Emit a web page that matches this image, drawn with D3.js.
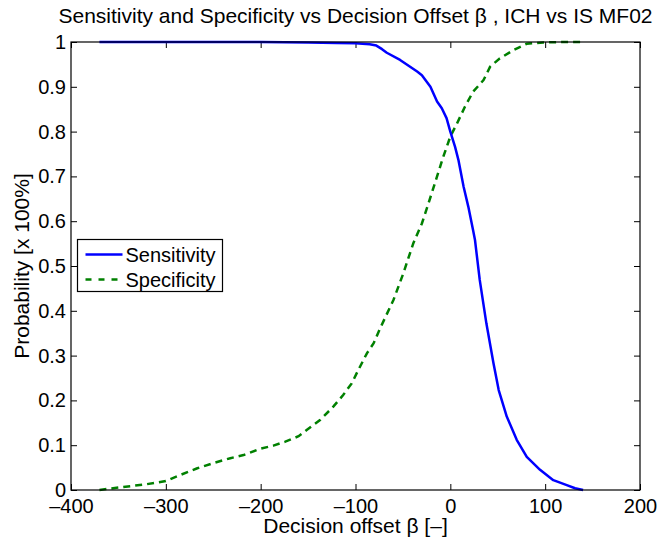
<!DOCTYPE html>
<html>
<head>
<meta charset="utf-8">
<script src="https://cdn.jsdelivr.net/npm/d3@7"></script>
<style>
  body { margin: 0; background: #fff; }
  text { font-family: "Liberation Sans", Helvetica, Arial, sans-serif; fill: #000; }
</style>
</head>
<body>
<script>
// values
var sensX = [-370, -300, -200, -150, -120, -100, -85, -78, -72, -67, -53, -35, -30, -21, -14, -9, -4, 0, 5, 8.5, 14, 19, 24, 26, 31, 38, 45.5, 51, 59.5, 70, 80.6, 94.6, 108.6, 122.8, 131.5, 140];
var sensY = [1, 1, 1, 0.999, 0.998, 0.997, 0.995, 0.992, 0.984, 0.976, 0.96, 0.934, 0.926, 0.9, 0.867, 0.852, 0.83, 0.8, 0.766, 0.737, 0.677, 0.632, 0.58, 0.558, 0.469, 0.372, 0.283, 0.223, 0.164, 0.112, 0.074, 0.045, 0.022, 0.011, 0.004, 0];
var specX = [-370, -348, -320, -300, -289, -267.5, -250, -232, -218, -200.7, -186.6, -174, -160, -151.5, -137.4, -123.4, -113, -104, -97, -88, -81, -74, -60, -49.5, -39, -30, -23, -14, -7.4, 0, 7, 15.5, 24, 35, 42, 52, 66.5, 80.6, 98, 123, 140];
var specY = [0, 0.006, 0.013, 0.02, 0.03, 0.048, 0.06, 0.071, 0.078, 0.092, 0.099, 0.108, 0.12, 0.134, 0.156, 0.186, 0.212, 0.238, 0.268, 0.305, 0.327, 0.361, 0.424, 0.484, 0.551, 0.595, 0.64, 0.7, 0.744, 0.789, 0.818, 0.856, 0.889, 0.915, 0.945, 0.963, 0.982, 0.996, 0.999, 1, 1];
var xTicks = [-400, -300, -200, -100, 0, 100, 200];
var yTicks = [0, 0.1, 0.2, 0.3, 0.4, 0.5, 0.6, 0.7, 0.8, 0.9, 1];
var seriesNames = ["Sensitivity", "Specificity"];

var width = 659, height = 542;
// plot box edges (names chosen so they don't clash with window.top etc.)
var boxL = 71, boxR = 640, boxT = 42, boxB = 490;
var tickLen = 6;
var fontSize = "20px";

var svg = d3.select("body").append("svg")
    .attr("width", width)
    .attr("height", height);

var x = d3.scaleLinear().domain([-400, 200]).range([boxL, boxR]);
var y = d3.scaleLinear().domain([0, 1]).range([boxB, boxT]);

// format like matlab: minus as en dash, no trailing zeros
var fmt = function (d) { return String(+d.toFixed(1)).replace("-", "\u2013"); };

// bottom axis with inward ticks, labels below
svg.append("g")
    .attr("transform", "translate(0," + boxB + ")")
    .call(d3.axisBottom(x).tickValues(xTicks).tickFormat(fmt).tickSizeInner(-tickLen).tickSizeOuter(0).tickPadding(9))
    .call(function (g) { g.select(".domain").remove(); })
    .selectAll("text").style("font-size", fontSize);

// top axis ticks only
svg.append("g")
    .attr("transform", "translate(0," + boxT + ")")
    .call(d3.axisTop(x).tickValues(xTicks).tickFormat("").tickSizeInner(-tickLen).tickSizeOuter(0))
    .call(function (g) { g.select(".domain").remove(); });

// left axis
svg.append("g")
    .attr("transform", "translate(" + boxL + ",0)")
    .call(d3.axisLeft(y).tickValues(yTicks).tickFormat(fmt).tickSizeInner(-tickLen).tickSizeOuter(0).tickPadding(5))
    .call(function (g) { g.select(".domain").remove(); })
    .selectAll("text").style("font-size", fontSize);

// right axis ticks only
svg.append("g")
    .attr("transform", "translate(" + boxR + ",0)")
    .call(d3.axisRight(y).tickValues(yTicks).tickFormat("").tickSizeInner(-tickLen).tickSizeOuter(0))
    .call(function (g) { g.select(".domain").remove(); });

svg.selectAll(".tick line").attr("stroke", "#000");

// the curves
var line = d3.line()
    .x(function (d) { return x(d[0]); })
    .y(function (d) { return y(d[1]); });

var sens = sensX.map(function (v, i) { return [v, sensY[i]]; });
var spec = specX.map(function (v, i) { return [v, specY[i]]; });

svg.append("path")
    .datum(spec)
    .attr("d", line)
    .attr("fill", "none")
    .attr("stroke", "#008000")
    .attr("stroke-width", 2.5)
    .attr("stroke-dasharray", "7,5");

svg.append("path")
    .datum(sens)
    .attr("d", line)
    .attr("fill", "none")
    .attr("stroke", "#0000ff")
    .attr("stroke-width", 2.5)
    .attr("stroke-linejoin", "round");

// box around the plot
svg.append("rect")
    .attr("x", boxL)
    .attr("y", boxT)
    .attr("width", boxR - boxL)
    .attr("height", boxB - boxT)
    .attr("fill", "none")
    .attr("stroke", "#000")
    .attr("stroke-width", 1.2);

// legend
var legend = svg.append("g").attr("transform", "translate(77.5,239.5)");
legend.append("rect")
    .attr("width", 145)
    .attr("height", 52)
    .attr("fill", "#fff")
    .attr("stroke", "#000")
    .attr("stroke-width", 1.2);
var styles = [{ c: "#0000ff", dash: null }, { c: "#008000", dash: "6,7" }];
seriesNames.forEach(function (name, i) {
    var yy = 15 + i * 25;
    legend.append("line")
        .attr("x1", 8).attr("x2", 45)
        .attr("y1", yy).attr("y2", yy)
        .attr("stroke", styles[i].c)
        .attr("stroke-width", 2.5)
        .attr("stroke-dasharray", styles[i].dash);
    legend.append("text")
        .attr("x", 48)
        .attr("y", yy + 7)
        .style("font-size", fontSize)
        .text(name);
});

// title and axis labels
svg.append("text")
    .attr("x", (boxL + boxR) / 2)
    .attr("y", 23)
    .attr("text-anchor", "middle")
    .style("font-size", "21px")
    .text("Sensitivity and Specificity vs Decision Offset \u03b2 , ICH vs IS MF02");

svg.append("text")
    .attr("x", (boxL + boxR) / 2)
    .attr("y", 533)
    .attr("text-anchor", "middle")
    .style("font-size", "21px")
    .text("Decision offset \u03b2 [\u2013]");

svg.append("text")
    .attr("transform", "translate(29," + ((boxT + boxB) / 2) + ") rotate(-90)")
    .attr("text-anchor", "middle")
    .style("font-size", "21px")
    .text("Probability [x 100%]");
</script>
</body>
</html>
